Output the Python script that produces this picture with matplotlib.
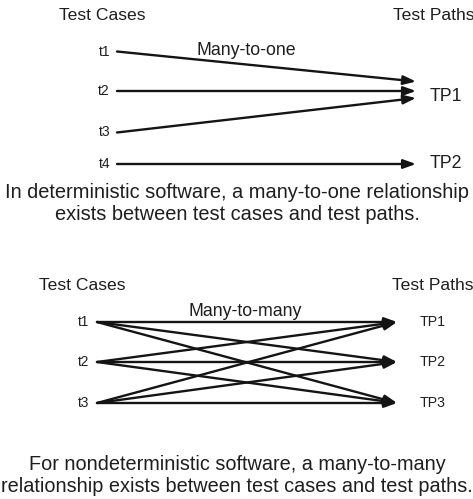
import matplotlib
matplotlib.use("Agg")
import matplotlib.pyplot as plt

plt.rcParams['font.family'] = ['Liberation Sans', 'DejaVu Sans']
plt.rcParams['text.color'] = '#1e1e1e'

# ---- data ----
top_cases = ["t1", "t2", "t3", "t4"]
top_paths = ["TP1", "TP2"]
top_edges = [("t1", "TP1"), ("t2", "TP1"), ("t3", "TP1"), ("t4", "TP2")]
top_label = "Many-to-one"
top_caption = ["In deterministic software, a many-to-one relationship",
               "exists between test cases and test paths."]

bot_cases = ["t1", "t2", "t3"]
bot_paths = ["TP1", "TP2", "TP3"]
bot_edges = [(c, p) for c in bot_cases for p in bot_paths]
bot_label = "Many-to-many"
bot_caption = ["For nondeterministic software, a many-to-many",
               "relationship exists between test cases and test paths."]

# ---- layout (pixel coords) ----
W, H = 473, 499
fig = plt.figure(figsize=(W / 100, H / 100), dpi=100)
ax = fig.add_axes([0, 0, 1, 1])
ax.set_xlim(0, W)
ax.set_ylim(H, 0)
ax.axis('off')

arrow_kw = dict(arrowstyle='-|>,head_length=0.75,head_width=0.27', color='#141414',
                lw=1.7, shrinkA=0, shrinkB=0, mutation_scale=10)

# top diagram layout
top_case_y = {"t1": 51.5, "t2": 91, "t3": 132.5, "t4": 164}
top_tip_y = {("t1", "TP1"): 81.5, ("t2", "TP1"): 91, ("t3", "TP1"): 98, ("t4", "TP2"): 164}
top_path_y = {"TP1": 96, "TP2": 164}
tx0, tx1 = 117, 416

ax.text(102, 15, "Test Cases", ha='center', va='center', fontsize=12.6)
ax.text(393, 15, "Test Paths", ha='left', va='center', fontsize=12.6)
for c in top_cases:
    ax.text(110, top_case_y[c], c, ha='right', va='center', fontsize=10)
for p in top_paths:
    ax.text(430, top_path_y[p], p, ha='left', va='center', fontsize=12.8)
for (c, p) in top_edges:
    ax.annotate("", xy=(tx1, top_tip_y[(c, p)]), xytext=(tx0, top_case_y[c]),
                arrowprops=arrow_kw)
ax.text(246, 50, top_label, ha='center', va='center', fontsize=12.8)
ax.text(237, 193, top_caption[0], ha='center', va='center', fontsize=14.4)
ax.text(237, 215, top_caption[1], ha='center', va='center', fontsize=14.4)

# bottom diagram layout
bot_case_y = {"t1": 322, "t2": 362, "t3": 403}
bot_path_y = {"TP1": 322, "TP2": 362, "TP3": 403}
bx0, bx1 = 97, 397

ax.text(82, 285, "Test Cases", ha='center', va='center', fontsize=12.6)
ax.text(392, 285, "Test Paths", ha='left', va='center', fontsize=12.6)
for c in bot_cases:
    ax.text(89, bot_case_y[c], c, ha='right', va='center', fontsize=9.8)
for p in bot_paths:
    ax.text(420, bot_path_y[p], p, ha='left', va='center', fontsize=10.2)
for (c, p) in bot_edges:
    ax.annotate("", xy=(bx1, bot_path_y[p]), xytext=(bx0, bot_case_y[c]),
                arrowprops=arrow_kw)
ax.text(245, 312, bot_label, ha='center', va='center', fontsize=12.8)
ax.text(237, 465, bot_caption[0], ha='center', va='center', fontsize=14.3)
ax.text(237, 487, bot_caption[1], ha='center', va='center', fontsize=14.3)

fig.savefig("out.png", dpi=100)
